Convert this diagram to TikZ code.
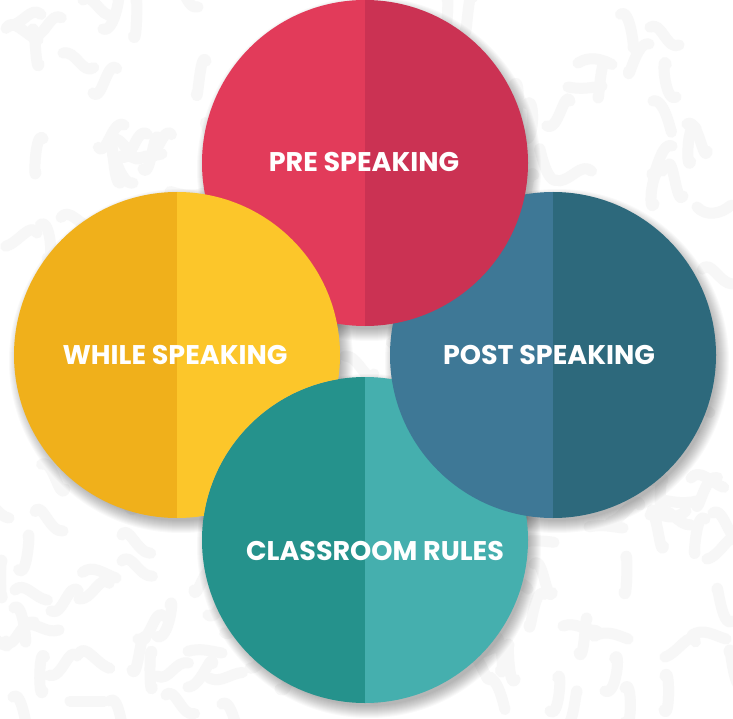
\documentclass[tikz,border=0pt]{standalone}
\usepackage{fontspec}
\newfontfamily\labelfont{Poppins}
\definecolor{preL}{HTML}{E23B5A}
\definecolor{preR}{HTML}{CB3253}
\definecolor{whileL}{HTML}{F0B01B}
\definecolor{whileR}{HTML}{FCC62A}
\definecolor{postL}{HTML}{3E7896}
\definecolor{postR}{HTML}{2D697C}
\definecolor{rulesL}{HTML}{25928C}
\definecolor{rulesR}{HTML}{45AFAE}
\definecolor{blob}{HTML}{F7F7F7}
\tikzset{
  circletext/.style={font=\labelfont\bfseries\fontsize{27}{27}\selectfont, text=white, inner sep=0pt},
  squiggle/.style={draw=blob, line width=11pt, line cap=round},
}
% two-tone disc: centre x, centre y, left colour, right colour
\newcommand{\halfdisc}[4]{%
  \fill[#3] (#1,#2) ++(90:\rad) arc(90:270:\rad) -- cycle;
  \fill[#4] (#1,#2) ++(-90:\rad) arc(-90:90:\rad) -- cycle;}
\newcommand{\softshadow}[2]{%
  \foreach \k in {1,...,13}{\fill[black, opacity=0.025] (#1+4,#2+6) circle (\rad+\k-4);}}
\begin{document}
\begin{tikzpicture}[x=1pt, y=-1pt, line join=round, line cap=round]
\def\rad{163}
\useasboundingbox[fill=white] (0,0) rectangle (733,719);

% background texture
\pgfmathsetseed{11}
\foreach \i in {1,...,260}{
  \pgfmathsetmacro{\px}{random(0,733)}
  \pgfmathsetmacro{\py}{random(0,719)}
  \pgfmathsetmacro{\a}{random(0,359)}
  \pgfmathsetmacro{\b}{random(-90,90)}
  \pgfmathsetmacro{\c}{\a+180+\b}
  \pgfmathsetmacro{\d}{\a+\b/2}
  \draw[squiggle] (\px,\py) to[out=\a, in=\c] ++(\d:34);
}

% shadows
\softshadow{365}{540}
\softshadow{553}{355}
\softshadow{365}{163}
\softshadow{177}{355}

% discs
\halfdisc{365}{540}{rulesL}{rulesR}
\halfdisc{553}{355}{postL}{postR}
\halfdisc{365}{163}{preL}{preR}
\begin{scope}[even odd rule]
  \clip (0,0) rectangle (733,719) (365,540) circle (\rad);
  \halfdisc{177}{355}{whileL}{whileR}
\end{scope}

\node[circletext] (pre) at (364,162) {PRE SPEAKING};
\node[circletext] (while) at (175,355) {WHILE SPEAKING};
\node[circletext] (post) at (549,355) {POST SPEAKING};
\node[circletext] (rules) at (375,551) {CLASSROOM RULES};
\end{tikzpicture}
\end{document}
